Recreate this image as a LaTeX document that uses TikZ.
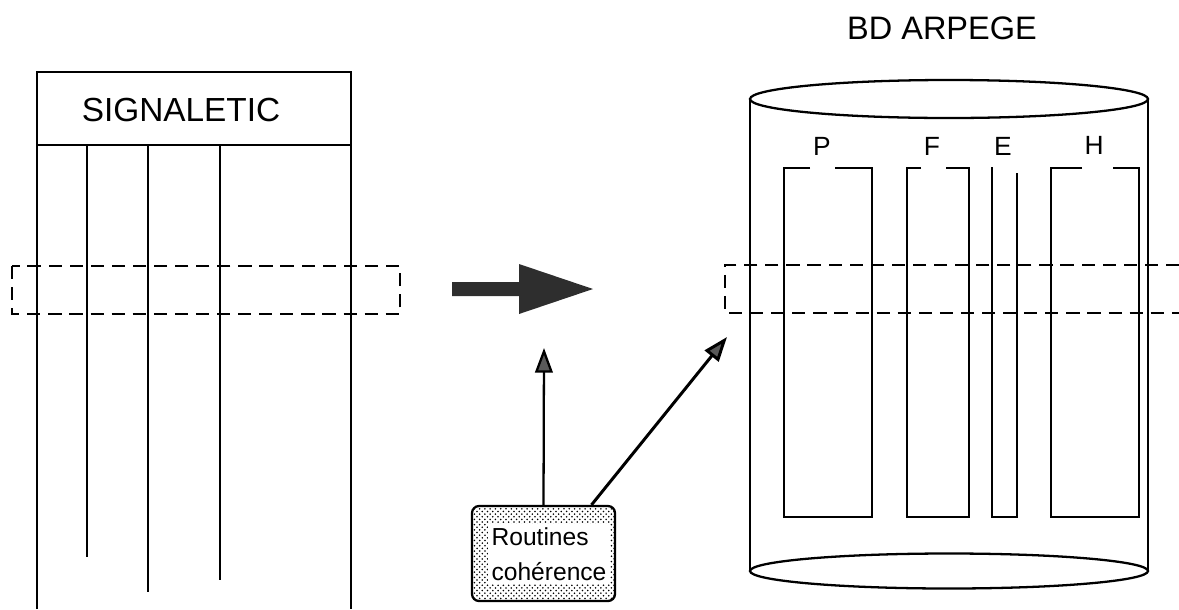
\documentclass[tikz,border=0pt]{standalone}
\usepackage{fontspec}
\setmainfont{Liberation Sans}
\usetikzlibrary{arrows.meta,patterns}

\begin{document}
\begin{tikzpicture}[x=0.02cm,y=-0.02cm,line width=1.3pt]

   \useasboundingbox (0,0) rectangle (1179,609);

%  signaletic table
   \draw (37,609) -- (37,72) -- (351,72) -- (351,609);
   \draw (37,145) -- (351,145);
   \draw (87,145) -- (87,557) (148,145) -- (148,592) (220,145) -- (220,580);
   \node[font=\fontsize{19}{21}\selectfont] (signal) at (181,110) {SIGNALETIC};

%  dashed windows
   \draw[dash pattern=on 7.5pt off 4.5pt] (12,266) rectangle (400,314);
   \draw[dash pattern=on 7.5pt off 4.5pt] (1179,265) -- (725,265) -- (725,313) -- (1179,313);

%  big arrow
   \fill[black!82] (452,282) -- (519,282) -- (519,264) -- (593,289) -- (519,314)
        -- (519,296) -- (452,296) -- cycle;

%  database
   \node[font=\fontsize{18.5}{20}\selectfont] (bd) at (942,28) {BD ARPEGE};
   \draw (750,99) -- (750,571) (1148,99) -- (1148,571);
   \draw (949,99) ellipse (199 and 19);
   \draw (949,571) ellipse (199 and 17.5);

   \draw (810,168) -- (784,168) -- (784,517) -- (872,517) -- (872,168) -- (835,168);
   \draw (921,168) -- (907,168) -- (907,517) -- (969,517) -- (969,168) -- (946,168);
   \draw (992,167) -- (992,517) -- (1017,517) -- (1017,173);
   \draw (1082,168) -- (1051,168) -- (1051,517) -- (1139,517) -- (1139,168) -- (1113,168);

   \node[font=\fontsize{15}{17}\selectfont] (p) at (822,146) {P};
   \node[font=\fontsize{15}{17}\selectfont] (f) at (932,146) {F};
   \node[font=\fontsize{15}{17}\selectfont] (e) at (1003,146) {E};
   \node[font=\fontsize{15}{17}\selectfont] (h) at (1094,145) {H};

%  routines
   \node[draw,rounded corners=4pt,pattern=crosshatch dots,pattern color=black,
         minimum width=2.86cm,minimum height=1.9cm] (rout) at (543.5,553.5) {};
   \node[fill=white,inner sep=2pt,align=left,font=\fontsize{14}{20}\selectfont]
         (routtext) at (549,554) {Routines\\cohérence};

   \coordinate (upend) at (544,348);
   \coordinate (diagend) at (727,337);
   \draw[-{Triangle[length=14pt,width=10pt,fill=black!65]}] (rout.north) -- (upend);
   \draw[line width=1.7pt,-{Triangle[length=14pt,width=10pt,fill=black!65]}]
        ([xshift=0.96cm]rout.north) -- (diagend);

\end{tikzpicture}
\end{document}
